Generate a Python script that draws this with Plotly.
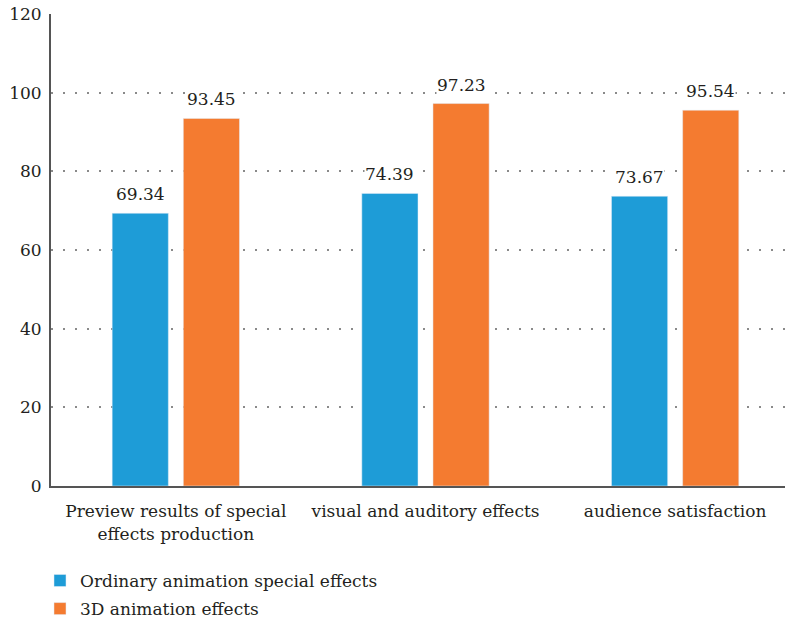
import plotly.graph_objects as go

categories = ["Preview results of special<br>effects production",
              "visual and auditory effects",
              "audience satisfaction"]
ordinary = [69.34, 74.39, 73.67]
three_d = [93.45, 97.23, 95.54]
series_names = ["Ordinary animation special effects", "3D animation effects"]
y_ticks = [0, 20, 40, 60, 80, 100, 120]

BLUE = "#1E9CD7"
ORANGE = "#F47B30"
FONT = "DejaVu Serif"
TEXT = "#231F20"

x_idx = list(range(len(categories)))
bar_w = 0.225

fig = go.Figure()
fig.add_trace(go.Bar(x=x_idx, y=ordinary, name=series_names[0], marker_color=BLUE,
                     width=bar_w, offset=-0.255, legendgroup="a"))
fig.add_trace(go.Bar(x=x_idx, y=three_d, name=series_names[1], marker_color=ORANGE,
                     width=bar_w, offset=0.03, legendgroup="b"))

# value labels above each bar, on a white patch that hides the dotted grid
for xs, ys, off in ((x_idx, ordinary, -0.255), (x_idx, three_d, 0.03)):
    for x, y in zip(xs, ys):
        fig.add_annotation(x=x + off + bar_w / 2, y=y, text=f"{y:.2f}", showarrow=False,
                           yanchor="bottom", yshift=8, bgcolor="white", borderpad=0,
                           font=dict(family=FONT, size=17, color=TEXT))

fig.update_layout(
    width=789, height=625,
    margin=dict(l=51, r=4, t=14, b=139, autoexpand=False),
    plot_bgcolor="white", paper_bgcolor="white",
    barmode="overlay",
    font=dict(family=FONT, size=17, color=TEXT),
    showlegend=True,
    legend=dict(orientation="v", x=-0.015, xanchor="left", y=-0.163, yanchor="top",
                font=dict(family=FONT, size=17, color=TEXT), traceorder="grouped",
                tracegroupgap=3, bgcolor="rgba(0,0,0,0)"),
)
fig.update_xaxes(range=[-0.5, 2.44], tickvals=x_idx, ticktext=categories,
                 showline=True, linecolor="#555555", linewidth=2,
                 showgrid=False, zeroline=False, ticks="",
                 ticklabelstandoff=9, tickfont=dict(family=FONT, size=17, color=TEXT))
fig.update_yaxes(range=[0, 120], tickvals=y_ticks, showline=True, linecolor="#555555",
                 linewidth=2, showgrid=True, gridcolor="#8a8a8a", gridwidth=1.5,
                 griddash="2px,10px", zeroline=False, ticks="",
                 ticklabelstandoff=4, tickfont=dict(family=FONT, size=17, color=TEXT))

fig.write_html("out.html")
